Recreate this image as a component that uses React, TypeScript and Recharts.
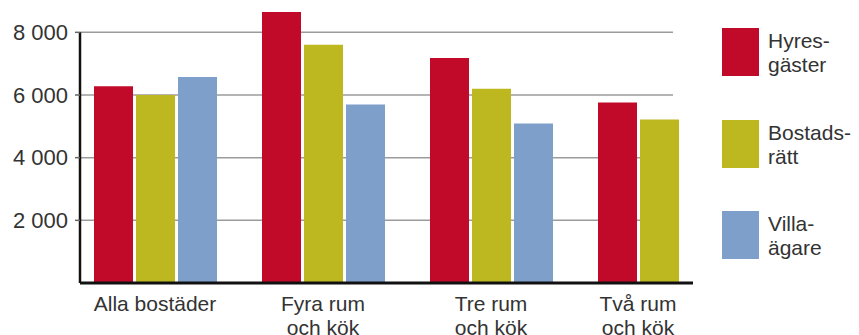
import React from 'react'
import { BarChart, Bar, XAxis, YAxis, CartesianGrid, ReferenceLine, Legend } from 'recharts'

// values
const CATEGORIES = ['Alla bostäder', 'Fyra rum och kök', 'Tre rum och kök', 'Två rum och kök']
const CATEGORY_LINES = [['Alla bostäder'], ['Fyra rum', 'och kök'], ['Tre rum', 'och kök'], ['Två rum', 'och kök']]
const HYRESGASTER = [6280, 8650, 7180, 5760]
const BOSTADSRATT = [6000, 7600, 6200, 5220]
const VILLAAGARE: (number | null)[] = [6575, 5700, 5090, null]
const Y_TICKS = [2000, 4000, 6000, 8000]
const Y_DOMAIN = [0, 9000]

const SERIES = [
    { key: 'hyres', lines: ['Hyres-', 'gäster'], color: '#C10A2A' },
    { key: 'bostad', lines: ['Bostads-', 'rätt'], color: '#BDB820' },
    { key: 'villa', lines: ['Villa-', 'ägare'], color: '#7F9FCB' },
]

const data = CATEGORIES.map((name, i) => ({
    name,
    hyres: HYRESGASTER[i],
    bostad: BOSTADSRATT[i],
    villa: VILLAAGARE[i],
}))

const FONT = '"Liberation Sans", Arial, Helvetica, sans-serif'
const TEXT = '#333333'
const BAR_SIZE = 39
const BAR_GAP = 3

const fmt = (v: number) => String(v).replace(/\B(?=(\d{3})+(?!\d))/g, ' ')

// eslint-disable-next-line @typescript-eslint/no-explicit-any
function CategoryTick({ x, y, payload }: any) {
    const i = payload.index
    // centre the label on the bars that are actually drawn
    const shift = VILLAAGARE[i] == null ? -(BAR_SIZE + BAR_GAP) / 2 : 0
    return (
        <text x={x + shift} y={y} textAnchor="middle" fill={TEXT} fontSize={21} fontFamily={FONT}>
            {CATEGORY_LINES[i].map((line, k) => (
                <tspan key={k} x={x + shift} dy={k === 0 ? 28 : 24}>
                    {line}
                </tspan>
            ))}
        </text>
    )
}

function LegendBox() {
    return (
        <div style={{ fontFamily: FONT }}>
            {SERIES.map((s) => (
                <div key={s.key} style={{ display: 'flex', alignItems: 'flex-start', height: 91.5 }}>
                    <div style={{ width: 37, height: 48, background: s.color, flexShrink: 0 }} />
                    <div style={{ marginLeft: 9, marginTop: 1, fontSize: 21, lineHeight: '24px', color: TEXT }}>
                        {s.lines[0]}
                        <br />
                        {s.lines[1]}
                    </div>
                </div>
            ))}
        </div>
    )
}

export default function App() {
    return (
        <div style={{ width: 859, height: 335, position: 'relative', background: '#fff' }}>
            <style>{'body{margin:0}'}</style>
            <BarChart
                width={859}
                height={335}
                data={data}
                margin={{ top: 1, right: 166, bottom: 0, left: 0 }}
                barSize={BAR_SIZE}
                barGap={BAR_GAP}
            >
                <CartesianGrid
                    vertical={false}
                    syncWithTicks
                    // eslint-disable-next-line @typescript-eslint/no-explicit-any
                    horizontal={(p: any) => (
                        <line
                            key={`h-${p.index}`}
                            x1={p.x1}
                            y1={p.y1}
                            x2={p.x2 - 20}
                            y2={p.y2}
                            stroke="#9b9b9b"
                            strokeWidth={1.5}
                        />
                    )}
                />
                <XAxis
                    dataKey="name"
                    height={52}
                    padding={{ left: -9, right: -50 }}
                    tickLine={false}
                    tickSize={0}
                    tickMargin={0}
                    axisLine={{ stroke: '#111', strokeWidth: 3 }}
                    tick={<CategoryTick />}
                    interval={0}
                />
                <XAxis xAxisId="frame" type="number" domain={[0, 1]} hide />
                <YAxis
                    width={80}
                    domain={Y_DOMAIN}
                    ticks={Y_TICKS}
                    tickFormatter={fmt}
                    axisLine={false}
                    tickLine={{ stroke: '#666', strokeWidth: 1.5 }}
                    tickSize={5}
                    tickMargin={7}
                    tick={{ fill: TEXT, fontSize: 22, fontFamily: FONT }}
                />
                {SERIES.map((s) => (
                    <Bar key={s.key} dataKey={s.key} fill={s.color} isAnimationActive={false} />
                ))}
                <ReferenceLine
                    xAxisId="frame"
                    segment={[
                        { x: 0, y: 0 },
                        { x: 0, y: Y_TICKS[Y_TICKS.length - 1] },
                    ]}
                    stroke="#111"
                    strokeWidth={2.5}
                />
                <Legend
                    layout="vertical"
                    align="center"
                    verticalAlign="middle"
                    wrapperStyle={{ left: 722, top: 28, width: 137, margin: 0 }}
                    content={<LegendBox />}
                />
            </BarChart>
        </div>
    )
}
